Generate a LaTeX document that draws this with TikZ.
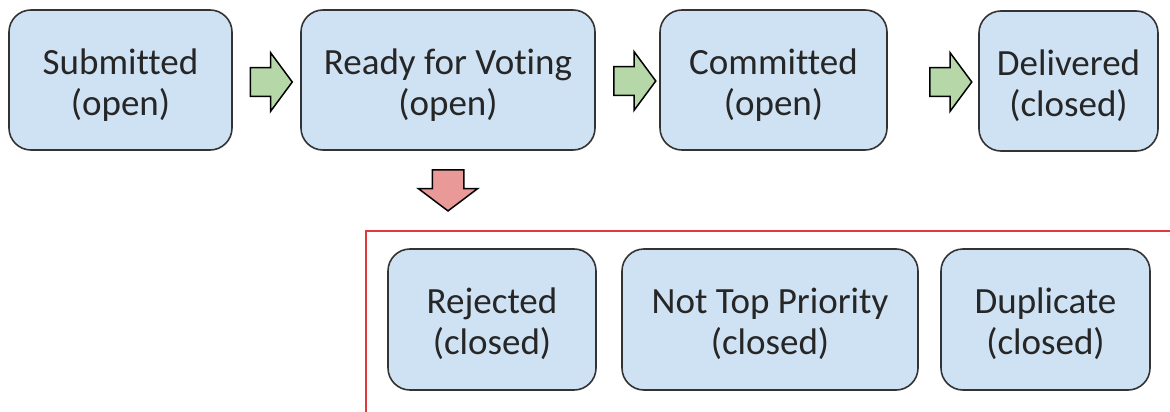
\documentclass[tikz,border=0pt]{standalone}
\usepackage{fontspec}
\setmainfont{Carlito}[Ligatures=NoCommon]
\usetikzlibrary{shapes.arrows}

\definecolor{boxblue}{HTML}{CFE2F3}
\definecolor{boxline}{HTML}{333333}
\definecolor{gofill}{HTML}{B6D7A8}
\definecolor{stopfill}{HTML}{EA9999}
\definecolor{frame}{HTML}{E0393E}

\begin{document}
\begin{tikzpicture}[x=1pt,y=-1pt,
    state/.style={draw=boxline,line width=1.6pt,fill=boxblue,rounded corners=22pt,
        minimum height=140pt,align=center,text=black!85,text height=76pt,
        font=\fontsize{37}{41}\selectfont},
    goarrow/.style={single arrow,draw=black,line width=1.5pt,fill=gofill,
        inner xsep=0pt,inner ysep=13.5pt,single arrow head extend=15pt,
        minimum height=42pt,minimum width=57pt,single arrow tip angle=107},
    stoparrow/.style={single arrow,draw=black,line width=1.5pt,fill=stopfill,
        inner xsep=0pt,inner ysep=15pt,single arrow head extend=14pt,
        minimum height=41pt,minimum width=58pt,single arrow tip angle=106,rotate=-90}]
        \useasboundingbox (0,0) rectangle (1170,412);

        % open states
        \node[state,minimum width=223pt] (submitted) at (120.5,80) {Submitted\\(open)};
        \node[state,minimum width=294pt] (ready) at (448,80) {Ready for Voting\\(open)};
        \node[state,minimum width=227pt] (committed) at (773.5,80) {Committed\\(open)};
        \node[state,minimum width=179pt] (delivered) at (1068.5,81) {Delivered\\(closed)};

        \node[goarrow] (go1) at (266,82) {};
        \node[goarrow] (go2) at (629.5,81) {};
        \node[goarrow] (go3) at (945.5,82) {};

        % closed states
        \node[stoparrow] (stop) at (448,184.5) {};

        \coordinate (frameleft) at (366,412);
        \coordinate (framecorner) at (366,231);
        \coordinate (frameright) at (1170,231);
        \draw[frame,line width=1.8pt] (frameleft) -- (framecorner) -- (frameright);

        \node[state,minimum width=208pt,minimum height=141pt] (rejected) at (492,319.5) {Rejected\\(closed)};
        \node[state,minimum width=296pt,minimum height=141pt] (nottop) at (770,319.5) {Not Top Priority\\(closed)};
        \node[state,minimum width=209pt,minimum height=141pt] (duplicate) at (1045.5,319.5) {Duplicate\\(closed)};
    \end{tikzpicture}
\end{document}
